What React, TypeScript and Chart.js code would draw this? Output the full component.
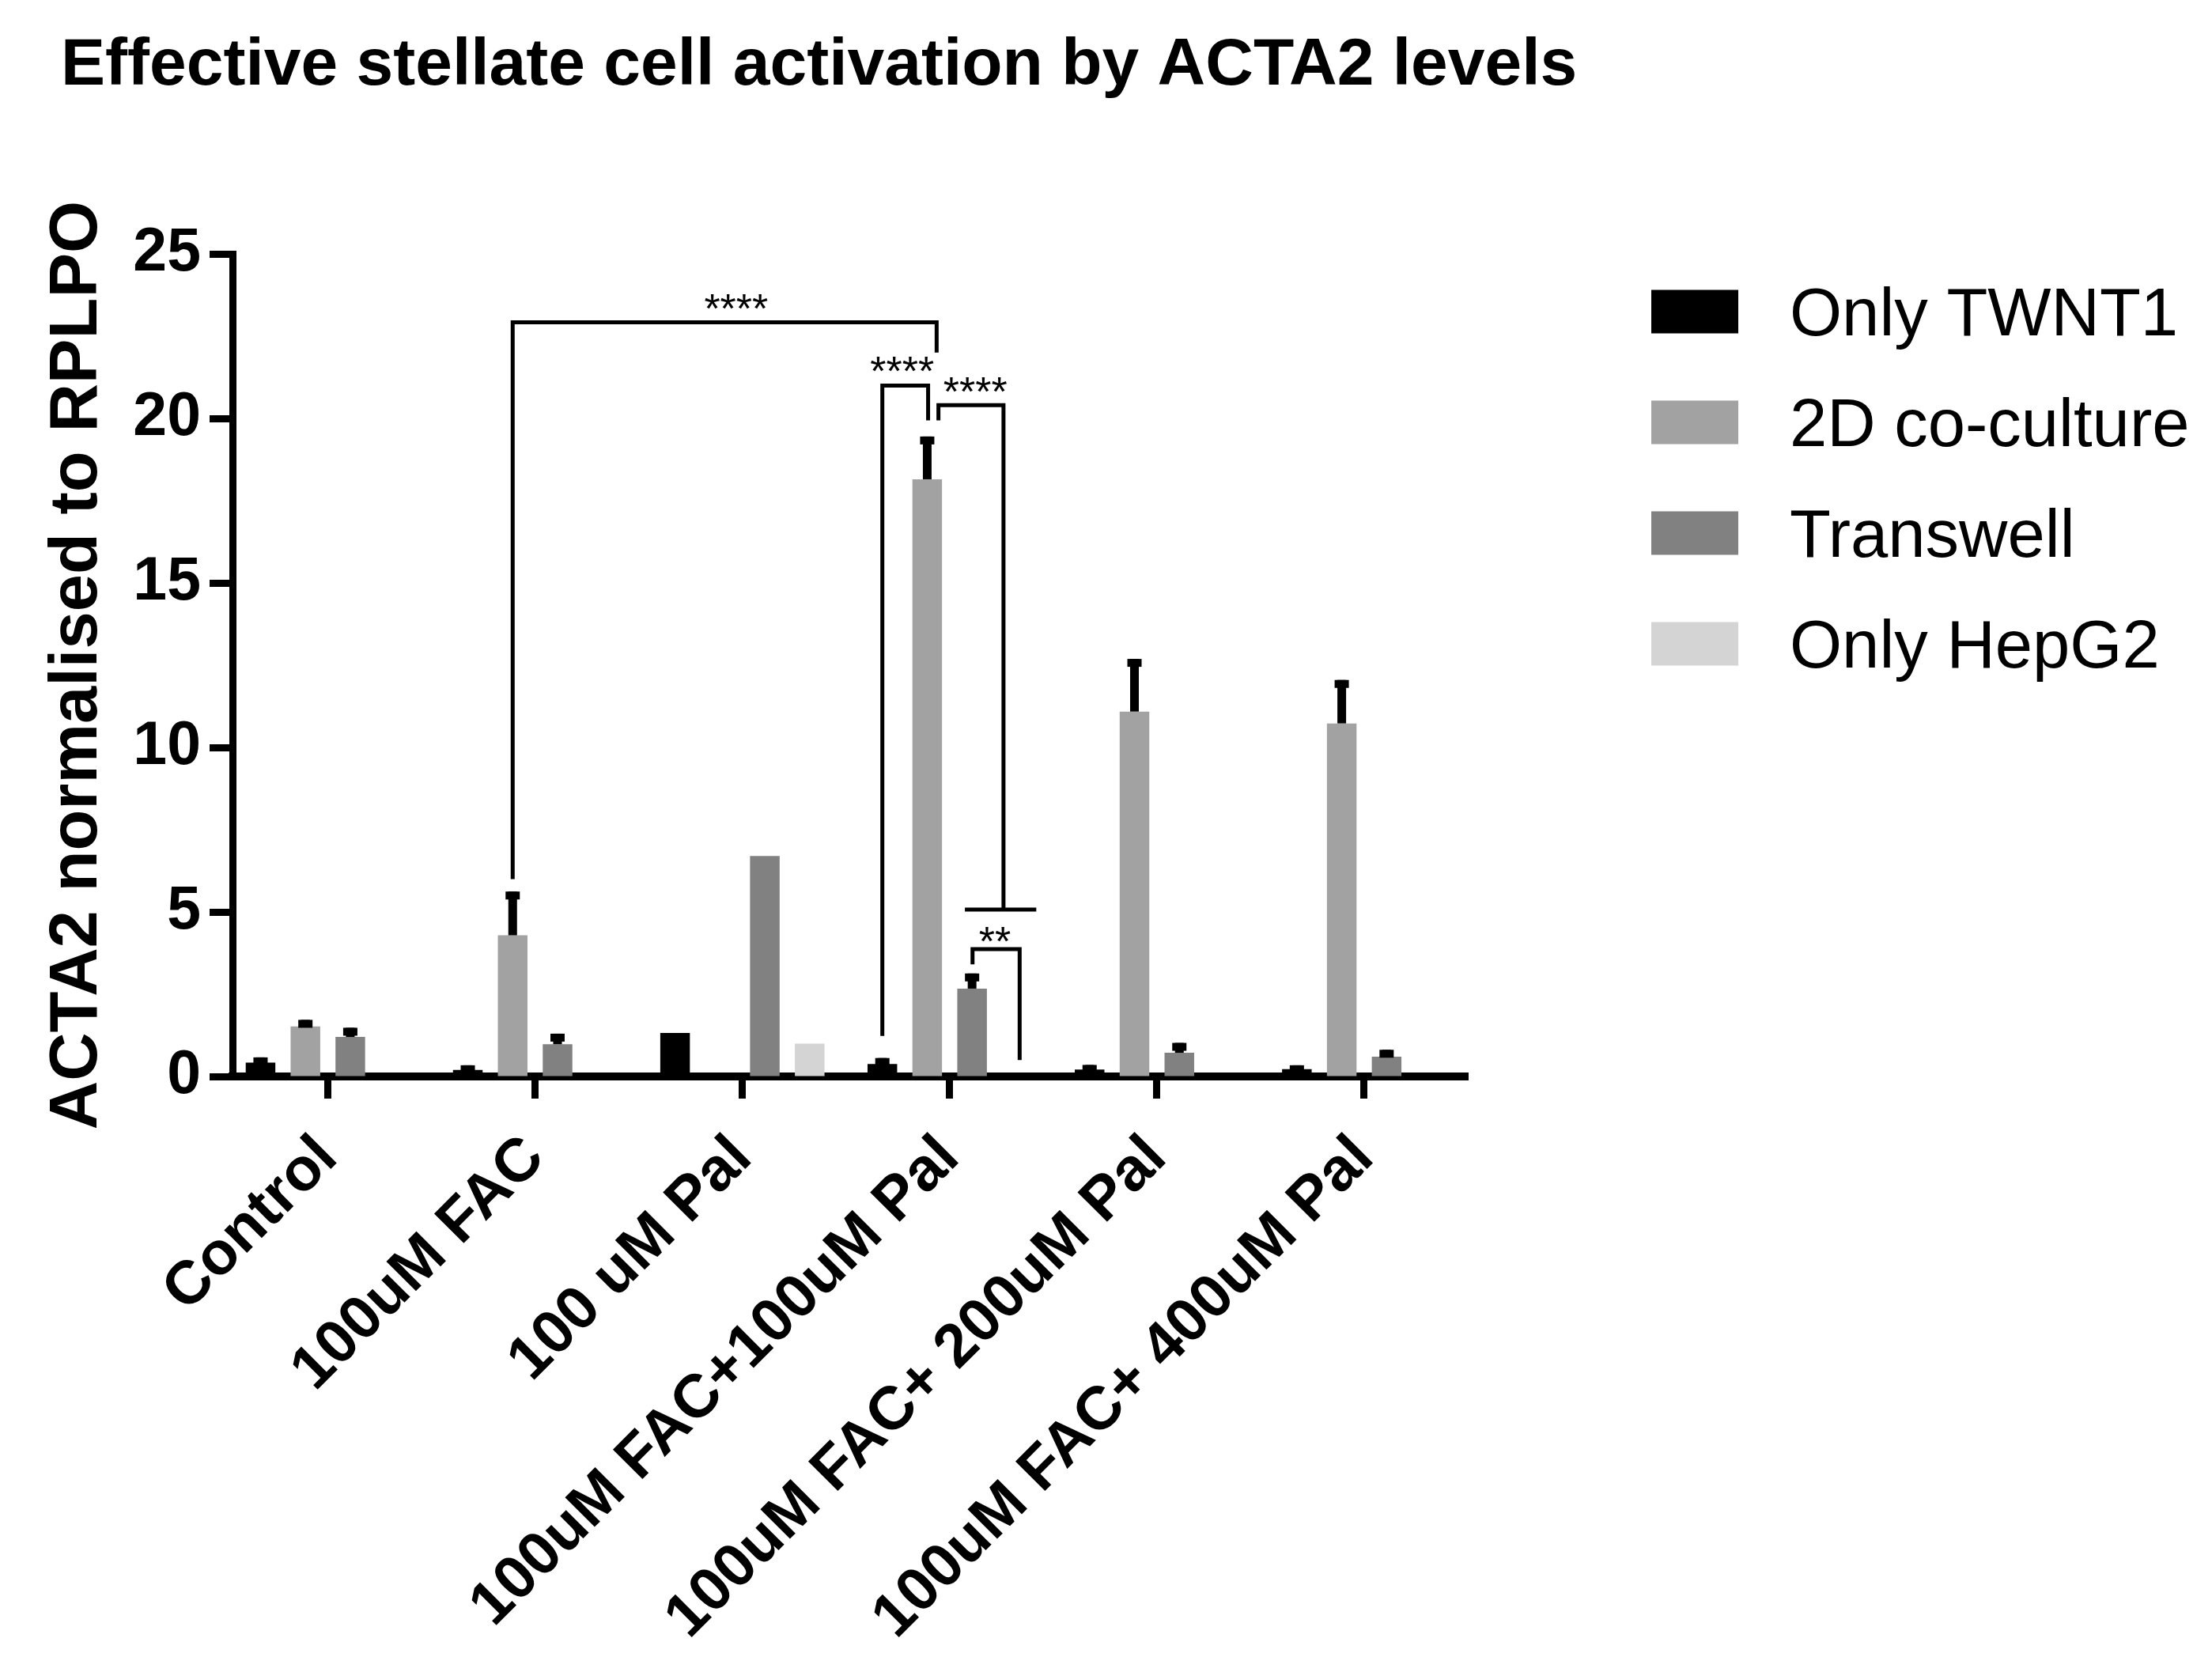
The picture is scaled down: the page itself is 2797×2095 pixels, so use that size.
import { useEffect, useRef } from "react"
import { Chart, registerables, type ChartConfiguration, type Plugin } from "chart.js"

Chart.register(...registerables)

const FONT = "'Liberation Sans', Arial, Helvetica, sans-serif"

const chartTitle = "Effective stellate cell activation by ACTA2 levels"
const yTitle = "ACTA2 normalised to RPLPO"
const categories = [
  "Control",
  "100uM FAC",
  "100 uM Pal",
  "100uM FAC+100uM Pal",
  "100uM FAC+ 200uM Pal",
  "100uM FAC+ 400uM Pal",
]
const seriesNames = ["Only TWNT1", "2D co-culture", "Transwell", "Only HepG2"]
const seriesColors = ["#000000", "#a2a2a2", "#818181", "#d4d4d4"]

// means
const twnt1 = [0.42, 0.2, 1.32, 0.38, 0.21, 0.22]
const coculture = [1.52, 4.29, null, 18.15, 11.09, 10.73]
const transwell = [1.2, 0.98, 6.7, 2.67, 0.72, 0.6]
const hepg2 = [null, null, 1.0, null, null, null]

// top of the error bars
const twnt1Top = [0.58, 0.34, null, 0.56, 0.35, 0.34]
const cocultureTop = [1.72, 5.62, null, 19.45, 12.69, 12.05]
const transwellTop = [1.48, 1.3, null, 3.13, 1.02, 0.81]
const hepg2Top = [null, null, null, null, null, null]

const yTicks = [0, 5, 10, 15, 20, 25]

// significance brackets: [group, slot, bottom value] for each leg
const bracketLeft = [[1, -0.5, 6.0], [3, -1.5, 1.23], [3, -0.25, 19.94], [3, 0.51, 3.41]]
const bracketRight = [[3, -0.29, 22.0], [3, -0.48, 19.94], [3, 1.2, 5.07], [3, 1.56, 0.5]]
const bracketTop = [22.92, 21.0, 20.4, 3.87]
const bracketLabels = ["****", "****", "****", "**"]
const bracketLabelPos = [[1.97, 0, 23.58], [3, -1.06, 21.7], [3, 0.57, 21.06], [3, 1.01, 4.35]]
const crossLine = [3, 0.34, 1.93, 5.07]

const CAT_PCT = 0.866
const SLOT = CAT_PCT / 4

const seriesValues = [twnt1, coculture, transwell, hepg2]
const seriesTops = [twnt1Top, cocultureTop, transwellTop, hepg2Top]

const xv = (g: number, s: number) => g + s * SLOT

const overlay: Plugin<"bar"> = {
  id: "overlay",
  afterDatasetsDraw(chart) {
    const { ctx } = chart
    const xs = chart.scales.x
    const ys = chart.scales.y
    ctx.save()
    ctx.fillStyle = "#000"
    // error bars
    seriesTops.forEach((tops, i) => {
      const meta = chart.getDatasetMeta(i)
      tops.forEach((top, j) => {
        if (top == null) return
        const el = meta.data[j] as any
        if (!el) return
        const yt = ys.getPixelForValue(top)
        ctx.fillRect(el.x - 5.5, yt, 11, el.y - yt)
        ctx.fillRect(el.x - 9, yt, 18, 10)
      })
    })

    // significance brackets
    ctx.strokeStyle = "#000"
    ctx.lineWidth = 5
    ctx.lineJoin = "miter"
    bracketTop.forEach((top, k) => {
      const [gl, sl, bl] = bracketLeft[k]
      const [gr, sr, br] = bracketRight[k]
      const xl = xs.getPixelForValue(xv(gl, sl))
      const xr = xs.getPixelForValue(xv(gr, sr))
      const yt = ys.getPixelForValue(top)
      ctx.beginPath()
      ctx.moveTo(xl, ys.getPixelForValue(bl))
      ctx.lineTo(xl, yt)
      ctx.lineTo(xr, yt)
      ctx.lineTo(xr, ys.getPixelForValue(br))
      ctx.stroke()
    })
    const [cg, cs1, cs2, cy] = crossLine
    ctx.beginPath()
    ctx.moveTo(xs.getPixelForValue(xv(cg, cs1)), ys.getPixelForValue(cy))
    ctx.lineTo(xs.getPixelForValue(xv(cg, cs2)), ys.getPixelForValue(cy))
    ctx.stroke()

    ctx.font = `52px ${FONT}`
    ctx.textAlign = "center"
    ctx.textBaseline = "middle"
    bracketLabels.forEach((label, k) => {
      const [g, s, v] = bracketLabelPos[k]
      ctx.fillText(label, xs.getPixelForValue(xv(g, s)), ys.getPixelForValue(v) + 14)
    })
    ctx.restore()
  },
  afterDraw(chart) {
    const { ctx } = chart
    ctx.save()
    ctx.fillStyle = "#000"
    ctx.font = `bold 84px ${FONT}`
    ctx.textAlign = "left"
    ctx.textBaseline = "alphabetic"
    ctx.fillText(chartTitle, 77, 107)

    // legend
    ctx.font = `85px ${FONT}`
    seriesNames.forEach((name, i) => {
      const cy = 394 + i * 140
      ctx.fillStyle = seriesColors[i]
      ctx.fillRect(2088, cy - 27.5, 110, 55)
      ctx.fillStyle = "#000"
      ctx.fillText(name, 2263, cy + 30)
    })
    ctx.restore()
  },
}

export default function App() {
  const canvasRef = useRef<HTMLCanvasElement>(null)

  useEffect(() => {
    if (!canvasRef.current) return
    Chart.defaults.font.family = FONT

    const config: ChartConfiguration<"bar"> = {
      type: "bar",
      data: {
        datasets: seriesNames.map((name, i) => ({
          label: name,
          data: seriesValues[i].map((v, j) => ({ x: j, y: v })) as any,
          backgroundColor: seriesColors[i],
          borderWidth: 0,
          categoryPercentage: CAT_PCT,
          barPercentage: 0.66,
        })),
      },
      options: {
        animation: false,
        responsive: true,
        maintainAspectRatio: false,
        devicePixelRatio: 1,
        layout: { padding: { top: 321, right: 941, bottom: 0, left: 0 } },
        plugins: {
          legend: { display: false },
          title: { display: false },
          tooltip: { enabled: false },
        },
        scales: {
          x: {
            type: "linear",
            min: -0.46,
            max: 5.5,
            bounds: "data",
            offset: false,
            z: 1,
            afterBuildTicks: (axis) => {
              axis.ticks = categories.map((_, i) => ({ value: i }))
            },
            afterFit: (axis) => {
              axis.height = 734
            },
            border: { display: true, color: "#000", width: 10 },
            grid: {
              display: true,
              drawOnChartArea: false,
              drawTicks: true,
              offset: false,
              tickLength: 28,
              tickWidth: 9,
              tickColor: "#000",
            },
            ticks: {
              autoSkip: false,
              minRotation: 45,
              maxRotation: 45,
              padding: 30,
              color: "#000",
              font: { size: 77, weight: "bold" },
              callback: (v) => categories[Number(v)] ?? "",
            },
          },
          y: {
            min: 0,
            max: 25,
            z: 1,
            afterBuildTicks: (axis) => {
              axis.ticks = yTicks.map((v) => ({ value: v }))
            },
            afterFit: (axis) => {
              axis.width = 294
            },
            border: { display: true, color: "#000", width: 9 },
            grid: {
              display: true,
              drawOnChartArea: false,
              drawTicks: true,
              tickLength: 29,
              tickWidth: 9,
              tickColor: "#000",
            },
            ticks: {
              padding: 11,
              color: "#000",
              font: { size: 77, weight: "bold" },
            },
            title: {
              display: true,
              text: yTitle,
              color: "#000",
              font: { size: 85, weight: "bold" },
              padding: { top: 48, bottom: 0 },
            },
          },
        },
      },
      plugins: [overlay],
    }

    const chart = new Chart(canvasRef.current, config)
    return () => chart.destroy()
  }, [])

  return (
    <div style={{ position: "absolute", left: 0, top: 0, width: 2797, height: 2095, background: "#fff" }}>
      <canvas ref={canvasRef}></canvas>
    </div>
  )
}
